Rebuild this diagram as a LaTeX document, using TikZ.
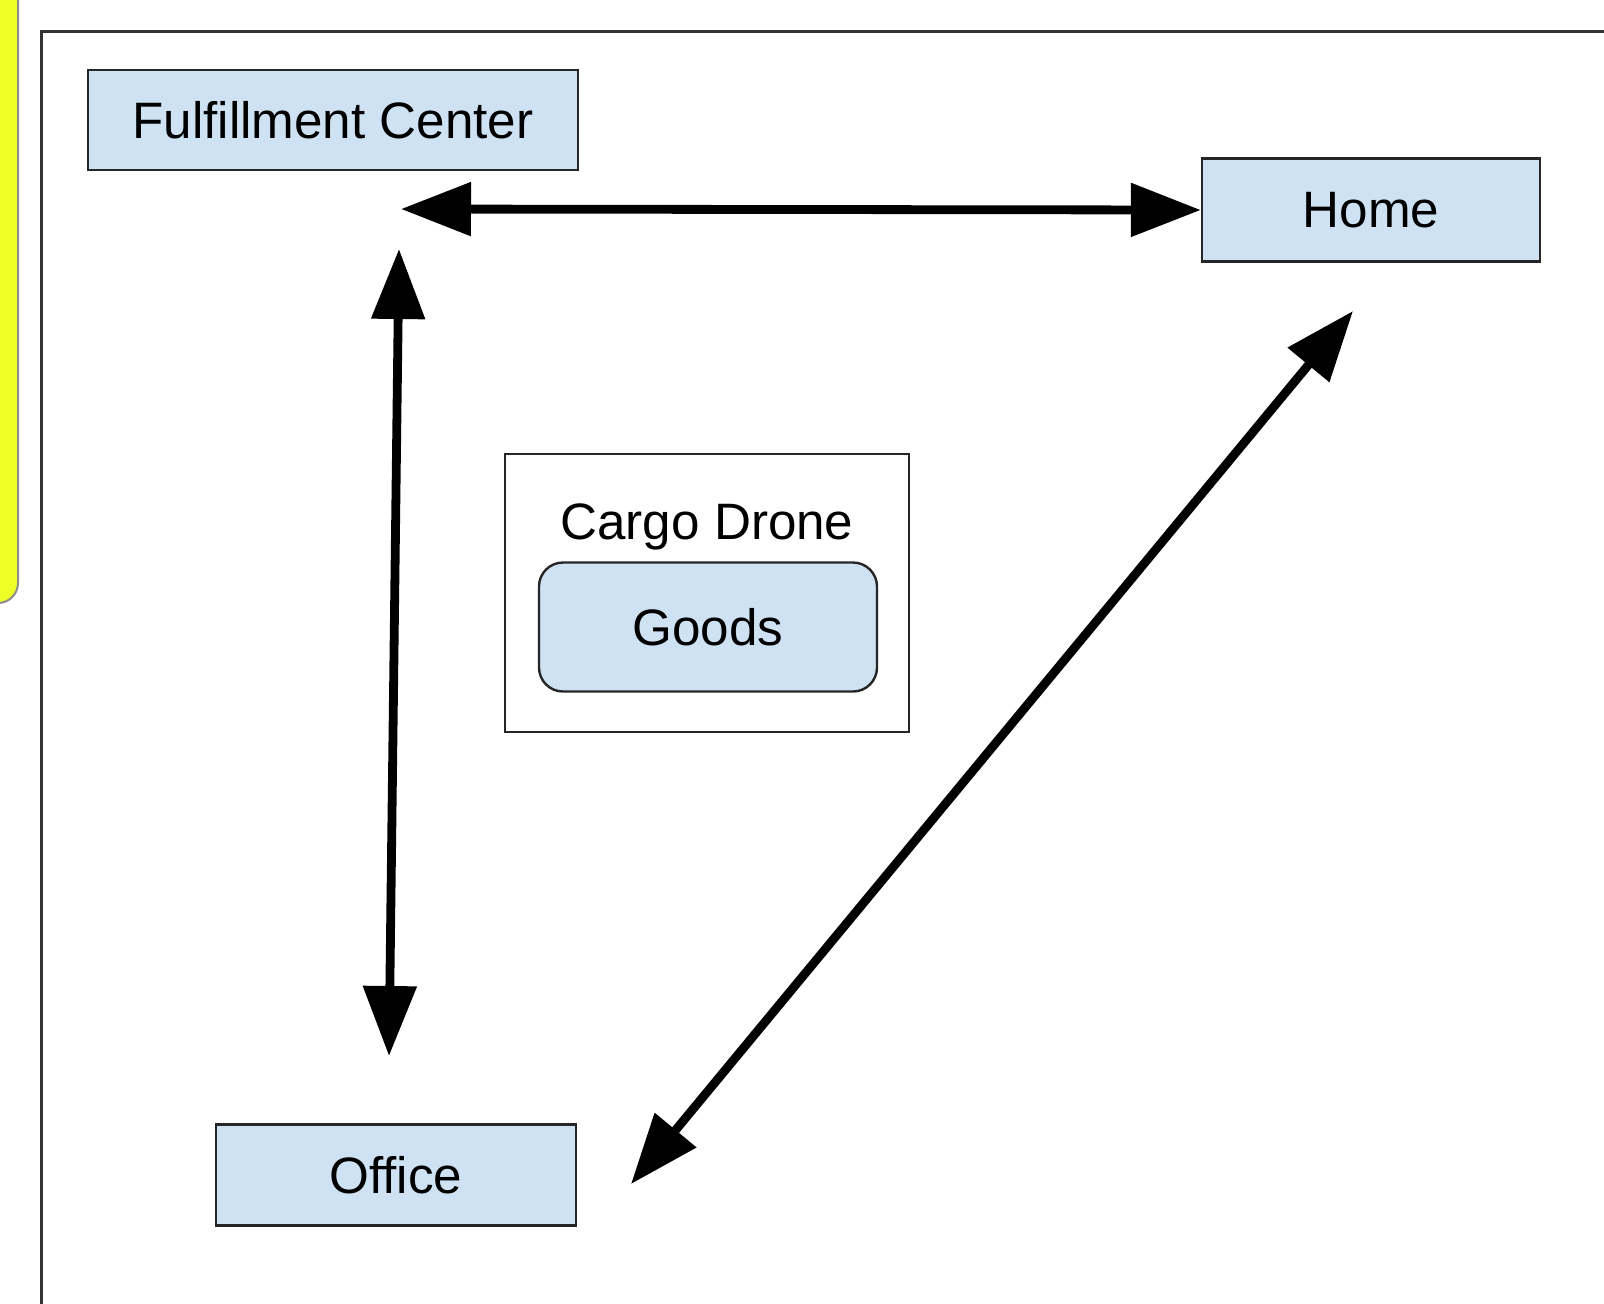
\documentclass[tikz,border=0pt]{standalone}
\usepackage{fontspec}
\setmainfont{Liberation Sans}
\usepackage{tikz}
\usetikzlibrary{arrows.meta,shapes}
\definecolor{boxblue}{HTML}{CFE2F3}
\definecolor{notegold}{RGB}{238,255,38}
\tikzstyle{place} = [draw=black!85,line width=1.2pt,fill=boxblue,inner sep=0pt,text depth=0pt,font=\fontsize{25.6}{30}\selectfont]
\tikzstyle{label} = [inner sep=0pt,font=\fontsize{25.6}{30}\selectfont]
\tikzstyle{trip} = [draw,line width=4.4pt,{Triangle[length=35pt,width=26pt]}-{Triangle[length=35pt,width=26pt]}]
\tikzstyle{frame} = [draw=black!80,line width=1.5pt]

\begin{document}
\begin{tikzpicture}[x=0.5pt,y=-0.5pt]
    \clip (0,0) rectangle (1604,1303);
    % note strip and outer frame
    \draw[draw=black!45,fill=notegold,line width=1pt,rounded corners=10pt] (-40,-40) rectangle (18,603);
    \draw[frame] (41,1340) -- (41,31) -- (1640,31);
    	% draw the places
	    \foreach \pos/\name/\bw/\bh/\txt in {{(333,120)/fc/245/50/Fulfillment Center},
	                                       {(1371,210)/home/169/51.5/Home},
	                                       {(396,1175)/office/180/50.5/Office}}
        \node[place,minimum width=\bw pt,minimum height=\bh pt] (\name) at \pos {\txt};
    	% the drone with its load
    	\node[draw=black!85,line width=1.2pt,minimum width=202pt,minimum height=139pt] (drone) at (707,593) {};
    	\node[label,anchor=base] (dronename) at (707,539) {Cargo Drone};
    	\node[place,rounded corners=12pt,minimum width=169pt,minimum height=64.5pt] (goods) at (708,627) {Goods};
    	% free ends of the routes
    	\coordinate (fcE) at (401,209);
    	\coordinate (fcS) at (399,249);
    	\coordinate (officeN) at (389,1056);
    	\coordinate (homeS) at (1353,311);
    	\coordinate (officeE) at (631,1184);
    	% Connect places with routes
    	\foreach \source/\dest in {fcE/home.west, fcS/officeN, homeS/officeE}
        	\draw[trip] (\source) -- (\dest);
\end{tikzpicture}
\end{document}
